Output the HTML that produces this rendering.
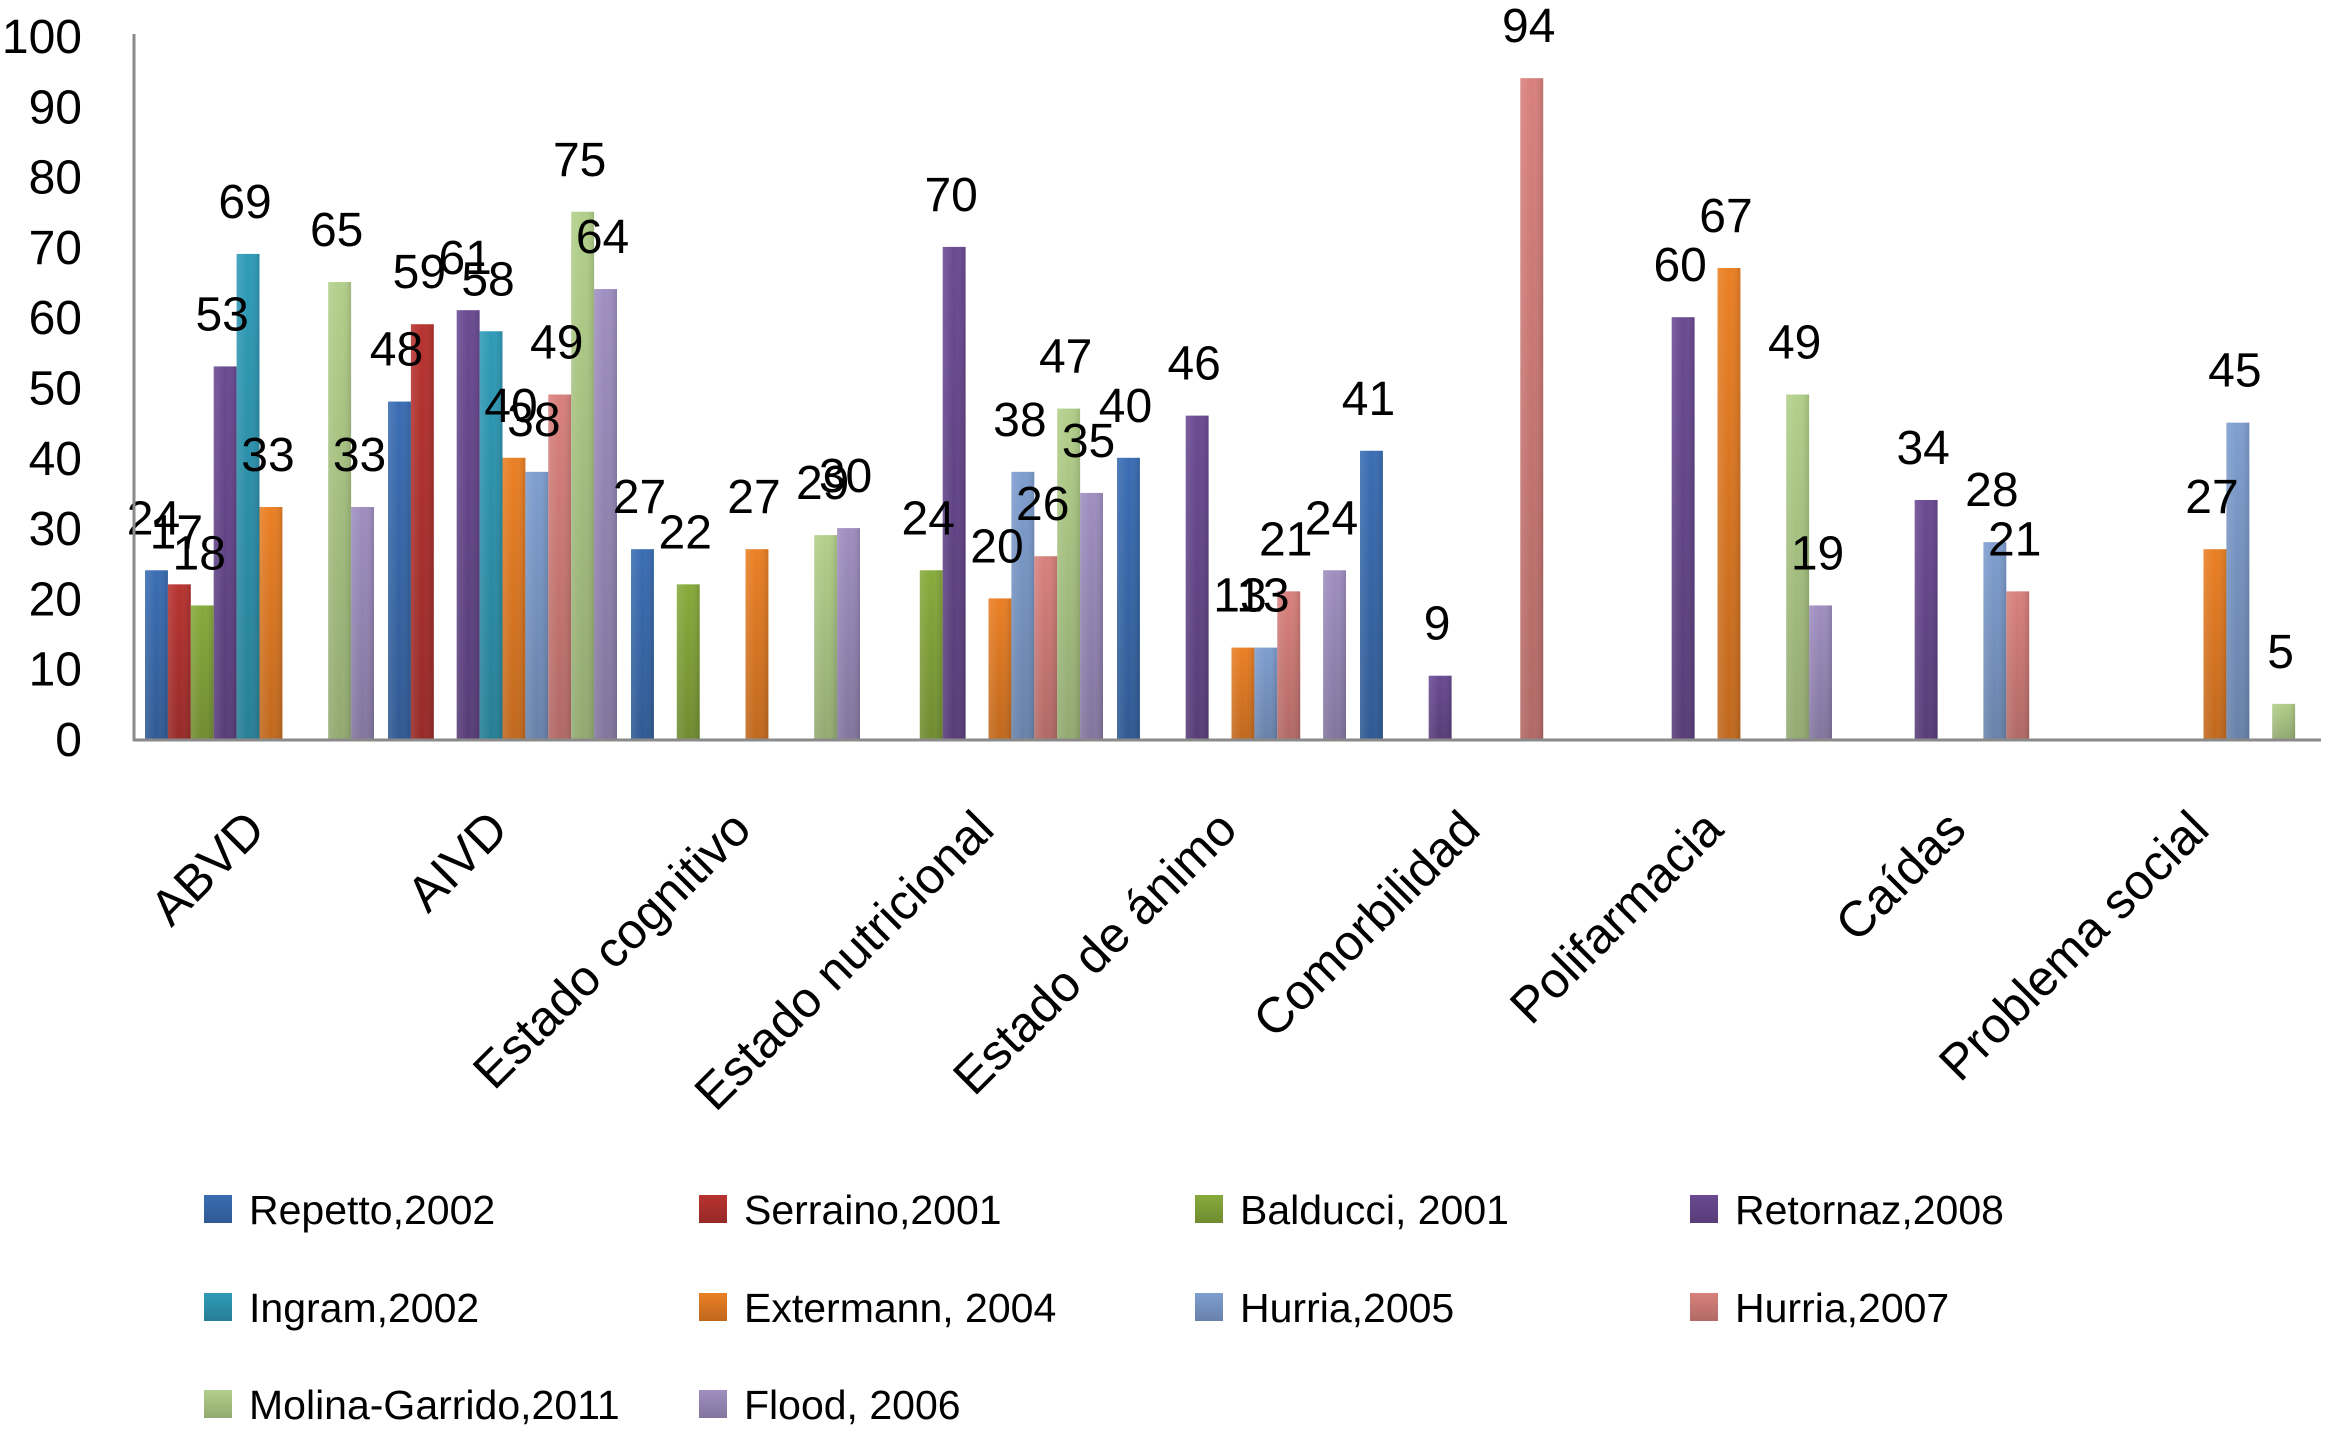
<!DOCTYPE html>
<html><head><meta charset="utf-8"><style>
html,body{margin:0;padding:0;background:#fff;}
svg{display:block;font-family:"Liberation Sans",Arial,sans-serif;}
</style></head><body>
<svg id="chart" width="2333" height="1430" viewBox="0 0 2333 1430" xmlns="http://www.w3.org/2000/svg">
<defs id="defs"></defs>
<g id="yticks"></g>
<g id="bars"></g>
<g id="labels"></g>
<line x1="134" y1="34" x2="134" y2="741" stroke="#8a8a8a" stroke-width="3"/>
<line x1="133" y1="740" x2="2321" y2="740" stroke="#8a8a8a" stroke-width="3"/>
<g id="xlabels"></g>
<g id="legend"></g>
</svg>
<script>
const categories = ["ABVD","AIVD","Estado cognitivo","Estado nutricional","Estado de ánimo","Comorbilidad","Polifarmacia","Caídas","Problema social"];
const seriesNames = ["Repetto,2002","Serraino,2001","Balducci, 2001","Retornaz,2008","Ingram,2002","Extermann, 2004","Hurria,2005","Hurria,2007","Molina-Garrido,2011","Flood, 2006"];
const seriesColors = ["#3a6db3","#b73330","#87aa3b","#6a4a92","#2f9bb7","#ea7f24","#7e9ecf","#d8807c","#b2cf8a","#9f8ec0"];
const repetto    = [24,48,27,null,40,41,null,null,null];
const serraino   = [22,59,null,null,null,null,null,null,null];
const balducci   = [19,null,22,24,null,null,null,null,null];
const retornaz   = [53,61,null,70,46,9,60,34,null];
const ingram     = [69,58,null,null,null,null,null,null,null];
const extermann  = [33,40,27,20,13,null,67,null,27];
const hurria05   = [null,38,null,38,13,null,null,28,45];
const hurria07   = [null,49,null,26,21,94,null,21,null];
const molina     = [65,75,29,47,null,null,49,null,5];
const flood      = [33,64,30,35,24,null,19,null,null];
const seriesValues = [repetto,serraino,balducci,retornaz,ingram,extermann,hurria05,hurria07,molina,flood];
const serraLabels = ["17",null,null,null,null,null,null,null,null];
const balducciLabels = ["18",null,null,null,null,null,null,null,null];
const yTicks = [0,10,20,30,40,50,60,70,80,90,100];

const NS="http://www.w3.org/2000/svg";
const y0=739, yPer=7.03;
function yScale(v){return y0 - v*yPer;}
const groupStart=145, groupW=243, barW=22.9;
function xScale(ci,si){return groupStart + ci*groupW + si*barW;}
function mk(tag,attrs,parent){const e=document.createElementNS(NS,tag);for(const k in attrs)e.setAttribute(k,attrs[k]);parent.appendChild(e);return e;}

const defs=document.getElementById('defs');
seriesColors.forEach((c,i)=>{
  const g2=mk('linearGradient',{id:'s'+i,x1:0,y1:0,x2:1,y2:0},defs);
  mk('stop',{offset:'0','stop-color':'#fff','stop-opacity':'0.12'},g2);
  mk('stop',{offset:'0.5','stop-color':'#fff','stop-opacity':'0'},g2);
  mk('stop',{offset:'1','stop-color':'#000','stop-opacity':'0.12'},g2);
});
const vshade=mk('linearGradient',{id:'vs',x1:0,y1:0,x2:0,y2:1},defs);
mk('stop',{offset:'0','stop-color':'#000','stop-opacity':'0'},vshade);
mk('stop',{offset:'1','stop-color':'#000','stop-opacity':'0.18'},vshade);

const yt=document.getElementById('yticks');
yTicks.forEach(t=>{
  const e=mk('text',{x:82,y:yScale(t)+17,'text-anchor':'end','font-size':48,fill:'#000'},yt);
  
  
  e.textContent=t;
});

const bars=document.getElementById('bars');
const labels=document.getElementById('labels');
seriesValues.forEach((arr,si)=>{
  arr.forEach((v,ci)=>{
    if(v===null)return;
    const x=xScale(ci,si), y=yScale(v), h=y0-y;
    const r=mk('rect',{x:x,y:y,width:barW,height:h,fill:seriesColors[si]},bars);
    
    
    mk('rect',{x:x,y:y,width:barW,height:h,fill:'url(#vs)'},bars);
    mk('rect',{x:x,y:y,width:barW,height:h,fill:'url(#s'+si+')'},bars);
    let lab=String(v);
    if(si===1&&serraLabels[ci])lab=serraLabels[ci];
    if(si===2&&balducciLabels[ci])lab=balducciLabels[ci];
    const t=mk('text',{x:x+barW/2-3,y:y-36,'text-anchor':'middle','font-size':48,fill:'#000'},labels);
    
    
    t.textContent=lab;
  });
});

const xl=document.getElementById('xlabels');
categories.forEach((c,ci)=>{
  const cx=groupStart+ci*groupW+groupW/2-7;
  const t=mk('text',{x:cx+8,y:832,'text-anchor':'end','font-size':50,fill:'#000',transform:'rotate(-45 '+(cx+8)+' 832)'},xl);
  
  
  t.textContent=c;
});

const lg=document.getElementById('legend');
const colX=[204,699,1195,1690], rowY=[1195,1293,1390];
seriesNames.forEach((n,i)=>{
  const col=i%4,row=Math.floor(i/4);
  const g=mk('g',{},lg);
  
  
  mk('rect',{x:colX[col],y:rowY[row],width:28,height:28,fill:seriesColors[i]},g);
  mk('rect',{x:colX[col],y:rowY[row],width:28,height:28,fill:'url(#vs)'},g);
  const t=mk('text',{x:colX[col]+45,y:rowY[row]+29,'font-size':41,fill:'#000'},g);
  t.textContent=n;
});
</script>
</body></html>
